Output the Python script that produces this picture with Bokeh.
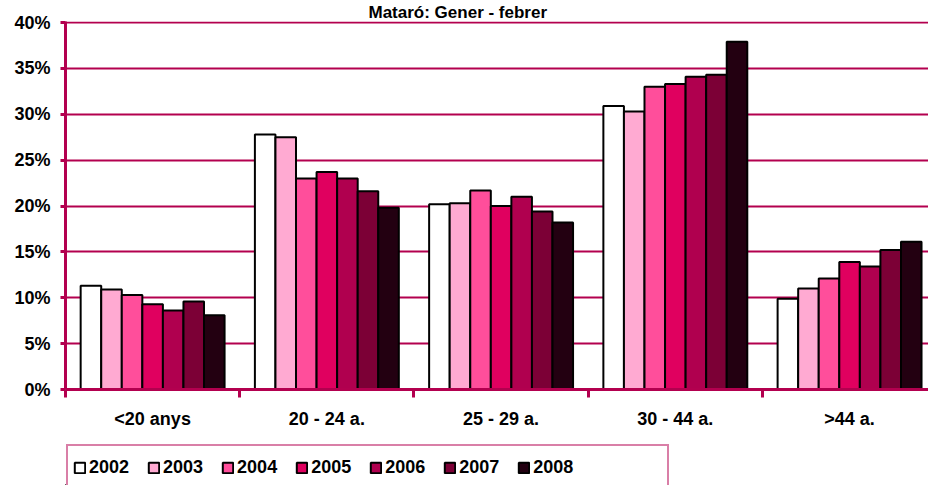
from bokeh.plotting import figure
from bokeh.layouts import column
from bokeh.models import (Range1d, FixedTicker, PrintfTickFormatter, Legend,
                          LegendItem, ColumnDataSource)
from bokeh.transform import dodge
from bokeh.embed import file_html
from bokeh.resources import INLINE

title_text = "Mataró: Gener - febrer"
categories = ["<20 anys", "20 - 24 a.", "25 - 29 a.", "30 - 44 a.", ">44 a."]
years = ["2002", "2003", "2004", "2005", "2006", "2007", "2008"]
v2002 = [11.3, 27.8, 20.2, 30.9, 9.9]
v2003 = [10.9, 27.5, 20.3, 30.3, 11.0]
v2004 = [10.3, 23.0, 21.7, 33.0, 12.1]
v2005 = [9.3, 23.7, 20.0, 33.3, 13.9]
v2006 = [8.6, 23.0, 21.0, 34.1, 13.4]
v2007 = [9.6, 21.6, 19.4, 34.3, 15.2]
v2008 = [8.1, 19.8, 18.2, 37.9, 16.1]
series = [v2002, v2003, v2004, v2005, v2006, v2007, v2008]
colors = ["#FFFFFF", "#FFAAD2", "#FF4E9B", "#E0005F", "#B0004F", "#7C0036", "#230011"]
y_ticks = [0, 5, 10, 15, 20, 25, 30, 35, 40]

CRIMSON = "#B3004F"
FONT = "Liberation Sans"

centers = [i + 0.5 for i in range(len(categories))]
src = {"x": centers}
for y, vals in zip(years, series):
    src["y" + y] = vals
source = ColumnDataSource(src)

p = figure(width=928, height=440, output_backend="svg", toolbar_location=None,
           x_range=Range1d(0, 4.953), y_range=Range1d(0, 40.11),
           min_border_left=65, min_border_right=0, min_border_top=21,
           min_border_bottom=51)
p.outline_line_color = None
p.background_fill_color = "white"
p.border_fill_color = "white"

# title
p.title.text = title_text
p.title.align = "left"
p.title.offset = 303
p.title.standoff = 0
p.title.text_font = FONT
p.title.text_font_style = "bold"
p.title.text_font_size = "17px"
p.title.text_color = "black"

group_w = 0.826
bar_w = group_w / len(years)
for j, (y, c) in enumerate(zip(years, colors)):
    off = -group_w / 2 + (j + 0.5) * bar_w
    p.vbar(x=dodge("x", off, range=p.x_range), top="y" + y, width=bar_w,
           bottom=0, source=source, fill_color=c, line_color="black",
           line_width=2)

# axes
xa = p.xaxis[0]
xa.ticker = FixedTicker(ticks=centers, minor_ticks=[0, 1, 2, 3, 4, 5])
xa.major_label_overrides = {c: lab for c, lab in zip(centers, categories)}
xa.axis_line_color = CRIMSON
xa.axis_line_width = 3
xa.major_tick_line_alpha = 0
xa.major_tick_in = 0
xa.major_tick_out = 0
xa.minor_tick_line_color = CRIMSON
xa.minor_tick_line_width = 3
xa.minor_tick_in = 0
xa.minor_tick_out = 8
xa.major_label_standoff = 11
xa.major_label_text_font = FONT
xa.major_label_text_font_style = "bold"
xa.major_label_text_font_size = "18px"
xa.major_label_text_color = "black"

ya = p.yaxis[0]
ya.ticker = FixedTicker(ticks=y_ticks, minor_ticks=[])
ya.formatter = PrintfTickFormatter(format="%d%%")
ya.axis_line_color = CRIMSON
ya.axis_line_width = 3
ya.major_tick_line_color = CRIMSON
ya.major_tick_line_width = 3
ya.major_tick_in = 0
ya.major_tick_out = 5
ya.minor_tick_line_alpha = 0
ya.major_label_standoff = 10
ya.major_label_text_font = FONT
ya.major_label_text_font_style = "bold"
ya.major_label_text_font_size = "18px"
ya.major_label_text_color = "black"

p.xgrid.grid_line_color = None
p.ygrid.ticker = FixedTicker(ticks=y_ticks[1:])
p.ygrid.grid_line_color = CRIMSON
p.ygrid.grid_line_width = 2

# legend strip below the chart
lg = figure(width=928, height=45, output_backend="svg", toolbar_location=None,
            x_axis_location=None, y_axis_location=None,
            x_range=Range1d(0, 1), y_range=Range1d(0, 1),
            min_border_left=65, min_border_right=0, min_border_top=0,
            min_border_bottom=0)
lg.outline_line_color = None
lg.xgrid.grid_line_color = None
lg.ygrid.grid_line_color = None
lg.background_fill_color = "white"
lg.border_fill_color = "white"

items = []
for y, c in zip(years, colors):
    r = lg.vbar(x=[-5], top=[0], bottom=[0], width=0.1, fill_color=c,
                line_color="black", line_width=2)
    items.append(LegendItem(label=y, renderers=[r]))
pad_r = lg.vbar(x=[-5], top=[0], bottom=[0], width=0.1, fill_alpha=0,
                line_alpha=0)
items.append(LegendItem(label="\u00a0" * 11, renderers=[pad_r]))

legend = Legend(items=items, orientation="horizontal", location=(1, -5),
                glyph_width=13, glyph_height=13, label_standoff=3, spacing=18,
                padding=5, margin=0, label_height=32,
                label_text_font=FONT, label_text_font_style="bold",
                label_text_font_size="18px", label_text_color="black",
                border_line_color=CRIMSON, border_line_width=2,
                background_fill_color="white", background_fill_alpha=1)
lg.add_layout(legend, "center")

layout = column(p, lg, spacing=0)
open("out.html", "w").write(file_html(layout, INLINE))
